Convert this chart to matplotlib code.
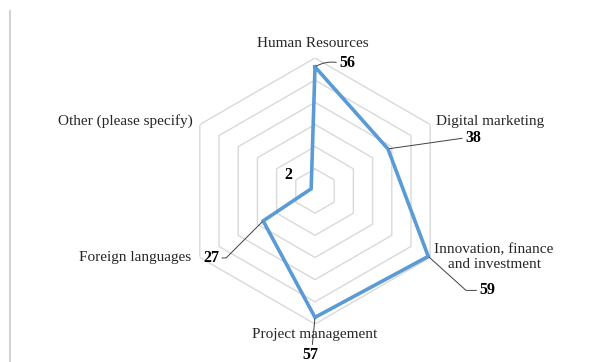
import numpy as np
import matplotlib
matplotlib.use("Agg")
import matplotlib.pyplot as plt
from matplotlib.lines import Line2D

# data
categories = ["Human Resources", "Digital marketing", "Innovation, finance\nand investment",
              "Project management", "Foreign languages", "Other (please specify)"]
values = [56, 38, 59, 57, 27, 2]
ring_levels = [10, 20, 30, 40, 50, 60]

plt.rcParams['font.family'] = ['Liberation Serif', 'DejaVu Serif']

fig = plt.figure(figsize=(6.13, 3.62), dpi=100)
ax = fig.add_axes([182 / 613, 38 / 362, 266 / 613, 266 / 362], projection='polar')
ax.set_theta_zero_location('N')
ax.set_theta_direction(-1)
ax.set_ylim(0, ring_levels[-1])
ax.grid(False)
ax.set_xticks([])
ax.set_yticks([])
ax.spines['polar'].set_visible(False)
ax.patch.set_alpha(0)

n = len(categories)
theta = np.arange(n) * 2 * np.pi / n
theta_c = np.append(theta, theta[0])

# hexagon grid
for lev in ring_levels:
    ax.plot(theta_c, [lev] * (n + 1), color='#d9d9d9', lw=1.0, zorder=1)

# series
vals_c = np.append(values, values[0])
ax.plot(theta_c, vals_c, color='#5b9bd5', lw=2.6, zorder=3, solid_joinstyle='miter')

# category labels (offsets from outer vertex, in pixels)
cat_pos = [((-2.5, 14.5), 'center'), ((6, 3), 'left'), ((64, 0), 'center'),
           ((-0.5, -10.5), 'center'), ((-9, 0), 'right'), ((-7, 3), 'right')]
for t, lab, (off, ha) in zip(theta, categories, cat_pos):
    ax.annotate(lab, xy=(t, ring_levels[-1]), xytext=off, textcoords='offset pixels',
                ha=ha, va='center', fontsize=11, color='#262626',
                multialignment='center', linespacing=1.2, annotation_clip=False)

# data labels with leader lines
lead = dict(arrowstyle='-', color='#404040', lw=0.7, shrinkA=0, shrinkB=1)
num = dict(fontsize=11.5, fontweight='bold', color='black', textcoords='offset pixels',
           annotation_clip=False)
ax.annotate(str(values[0]), xy=(theta[0], values[0]), xytext=(24, 4), ha='left', va='center',
            arrowprops=dict(lead, relpos=(0, 0.5), connectionstyle='arc3,rad=0.2'), **num)
ax.annotate(str(values[1]), xy=(theta[1], values[1]), xytext=(77, 11), ha='left', va='center',
            arrowprops=dict(lead, relpos=(0, 0.5)), **num)
ax.annotate(str(values[2]), xy=(theta[2], values[2]), xytext=(51, -34), ha='left', va='center',
            arrowprops=dict(lead, relpos=(0, 0.5), connectionstyle='angle,angleA=0,angleB=-42,rad=0'),
            **num)
ax.annotate(str(values[3]), xy=(theta[3], values[3]), xytext=(-4.5, -38), ha='center', va='center',
            arrowprops=dict(lead, relpos=(0.6, 1)), **num)
ax.annotate(str(values[4]), xy=(theta[4], values[4]), xytext=(-44, -37), ha='right', va='center',
            arrowprops=dict(lead, relpos=(1, 0.5), connectionstyle='angle,angleA=0,angleB=45,rad=0'),
            **num)
ax.annotate(str(values[5]), xy=(theta[5], values[5]), xytext=(-23, 14), ha='center', va='center', **num)

# left border line of the frame
fig.add_artist(Line2D([10 / 613, 10 / 613], [0, 1 - 11 / 362], transform=fig.transFigure,
                      color='#d4d4d4', lw=1.5))

fig.savefig('out.png', dpi=100)
